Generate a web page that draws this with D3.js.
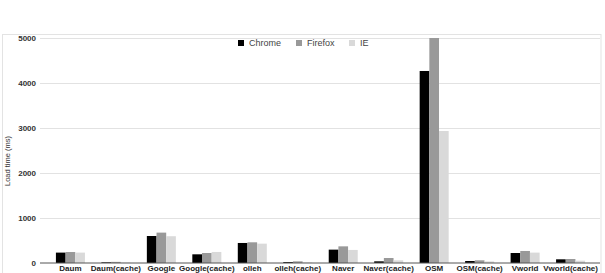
<!DOCTYPE html>
<html><head><meta charset="utf-8">
<script src="https://cdn.jsdelivr.net/npm/d3@7"></script>
<style>body{margin:0;background:#fff}svg{display:block}</style>
</head><body>
<script>
const categories = ["Daum","Daum(cache)","Google","Google(cache)","olleh","olleh(cache)","Naver","Naver(cache)","OSM","OSM(cache)","Vworld","Vworld(cache)"];
const seriesNames = ["Chrome","Firefox","IE"];
const chrome  = [231, 15, 600, 193, 445, 20, 297, 37, 4267, 44, 222, 82];
const firefox = [244, 25, 675, 222, 460, 37, 370, 111, 5000, 60, 267, 89];
const ie      = [231, 8, 595, 245, 430, 10, 290, 60, 2933, 35, 231, 52];
const yTicks = [0, 1000, 2000, 3000, 4000, 5000];
const colors = ["#000000", "#999999", "#d9d9d9"];

const W = 605, H = 273;
const svg = d3.select("body").append("svg").attr("width", W).attr("height", H);

// frame
svg.append("rect").attr("x", 2.5).attr("y", 34.5).attr("width", 598.5).attr("height", 260)
  .attr("fill", "none").attr("stroke", "#e3e3e3");

const x = d3.scaleBand().domain(categories).range([40, 601]).paddingInner(0.362).paddingOuter(0.35);
const y = d3.scaleLinear().domain([0, 5000]).range([263, 38]);
const xs = d3.scaleBand().domain(seriesNames).range([0, x.bandwidth()]);

// gridlines
svg.append("g").selectAll("line").data(yTicks.filter(d => d > 0)).join("line")
  .attr("x1", 40).attr("x2", 600).attr("y1", d => Math.round(y(d)) + 0.5).attr("y2", d => Math.round(y(d)) + 0.5)
  .attr("stroke", "#e2e2e2");

// y axis labels
const yAxis = d3.axisLeft(y).tickValues(yTicks).tickFormat(d3.format("d")).tickSize(0).tickPadding(4);
const gy = svg.append("g").attr("transform", "translate(40,0)").call(yAxis);
gy.select(".domain").remove();
gy.selectAll("text").attr("font-family", "Liberation Sans, Arial, sans-serif").attr("font-size", 8)
  .attr("font-weight", "bold").attr("fill", "#333");

// bars
const data = [chrome, firefox, ie];
const groups = svg.append("g").selectAll("g").data(categories).join("g")
  .attr("transform", c => `translate(${x(c)},0)`);
groups.selectAll("rect").data((c, i) => seriesNames.map((s, j) => ({s, v: data[j][i], j}))).join("rect")
  .attr("x", d => xs(d.s)).attr("width", xs.bandwidth())
  .attr("y", d => y(d.v)).attr("height", d => y(0) - y(d.v))
  .attr("fill", d => colors[d.j]);

// x axis
const xAxis = d3.axisBottom(x).tickSize(0).tickPadding(2);
const gx = svg.append("g").attr("transform", "translate(0,263)").call(xAxis);
gx.select(".domain").remove();
gx.selectAll("text").attr("font-family", "Liberation Sans, Arial, sans-serif").attr("font-size", 8)
  .attr("font-weight", "bold").attr("fill", "#222");
svg.append("line").attr("x1", 40).attr("x2", 600).attr("y1", 263).attr("y2", 263).attr("stroke", "#555").attr("stroke-width", 1);

// y title
svg.append("text").attr("transform", "translate(10,161) rotate(-90)").attr("text-anchor", "middle")
  .attr("font-family", "Liberation Sans Narrow, Liberation Sans, Arial, sans-serif").attr("font-size", 7.5)
  .attr("fill", "#333").text("Load time (ms)");

// legend
const legendX = [238, 296, 349];
const lg = svg.append("g").selectAll("g").data(seriesNames).join("g")
  .attr("transform", (d, i) => `translate(${legendX[i]},39)`);
lg.append("rect").attr("width", 6).attr("height", 6).attr("y", 1).attr("fill", (d, i) => colors[i]);
lg.append("text").attr("x", 11).attr("y", 7).attr("font-family", "Liberation Sans, Arial, sans-serif")
  .attr("font-size", 9).attr("fill", "#444").text(d => d);
</script>
</body></html>
